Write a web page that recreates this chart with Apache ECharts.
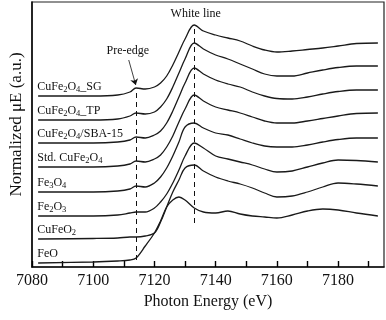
<!DOCTYPE html>
<html>
<head>
<meta charset="utf-8">
<script src="https://cdn.jsdelivr.net/npm/echarts@6/dist/echarts.min.js"></script>
<style>
html, body { margin: 0; padding: 0; background: #fff; }
#xanes { width: 386px; height: 320px; }
</style>
</head>
<body>
<div id="xanes"></div>
<script>
// photon energy grid (eV)
var energy = [7082, 7100, 7108, 7112, 7114, 7117, 7120, 7122, 7124, 7126, 7128, 7130, 7133, 7136, 7140, 7144, 7148, 7152, 7156, 7160, 7165, 7170, 7175, 7180, 7186, 7193];

// normalized absorption of each sample (before stacking)
var muSG     = [0, 0, 0.02, 0.08, 0.16, 0.14, 0.18, 0.26, 0.40, 0.62, 0.88, 1.14, 1.42, 1.30, 1.22, 1.16, 1.10, 1.00, 0.92, 0.88, 0.90, 0.93, 0.96, 1.00, 1.05, 1.06];
var muTP     = [0, 0, 0.02, 0.08, 0.14, 0.12, 0.16, 0.26, 0.42, 0.66, 0.94, 1.22, 1.54, 1.42, 1.30, 1.22, 1.12, 1.02, 0.92, 0.88, 0.88, 0.94, 1.00, 1.05, 1.08, 1.08];
var muSBA    = [0, 0, 0.02, 0.06, 0.12, 0.10, 0.16, 0.24, 0.40, 0.64, 0.92, 1.20, 1.50, 1.38, 1.26, 1.18, 1.12, 1.02, 0.94, 0.89, 0.88, 0.92, 0.98, 1.03, 1.06, 1.06];
var muStd    = [0, 0, 0.02, 0.06, 0.12, 0.10, 0.16, 0.24, 0.40, 0.62, 0.90, 1.16, 1.44, 1.32, 1.20, 1.14, 1.08, 1.00, 0.92, 0.88, 0.88, 0.92, 0.97, 1.02, 1.07, 1.08];
var muFe3O4  = [0, 0, 0.02, 0.06, 0.12, 0.10, 0.18, 0.30, 0.48, 0.72, 1.00, 1.30, 1.38, 1.28, 1.18, 1.14, 1.06, 0.98, 0.92, 0.90, 0.90, 0.94, 1.00, 1.05, 1.08, 1.08];
var muFe2O3  = [0, 0, 0.02, 0.06, 0.08, 0.08, 0.16, 0.28, 0.44, 0.66, 0.92, 1.20, 1.46, 1.36, 1.20, 1.14, 1.08, 1.02, 0.94, 0.88, 0.90, 0.98, 1.06, 1.12, 1.11, 1.08];
var muCuFeO2 = [0, 0.01, 0.02, 0.04, 0.04, 0.06, 0.12, 0.34, 0.64, 0.94, 1.18, 1.42, 1.48, 1.36, 1.24, 1.16, 1.10, 1.02, 0.92, 0.84, 0.86, 0.94, 1.04, 1.12, 1.10, 1.06];
var muFeO    = [0, 0.02, 0.04, 0.06, 0.10, 0.34, 0.60, 0.84, 1.12, 1.26, 1.32, 1.26, 1.10, 1.02, 1.00, 1.04, 0.98, 0.94, 0.92, 0.90, 0.96, 1.04, 1.08, 1.06, 1.00, 0.94];

// vertical shift of each curve
var offsets = [3.42, 2.94, 2.48, 2.00, 1.50, 1.02, 0.56, 0.08];

var sampleNames = ['CuFe2O4_SG', 'CuFe2O4_TP', 'CuFe2O4/SBA-15', 'Std. CuFe2O4', 'Fe3O4', 'Fe2O3', 'CuFeO2', 'FeO'];
var sampleLabels = ['CuFe{s|2}O{s|4}_SG', 'CuFe{s|2}O{s|4}_TP', 'CuFe{s|2}O{s|4}/SBA-15', 'Std. CuFe{s|2}O{s|4}',
  'Fe{s|3}O{s|4}', 'Fe{s|2}O{s|3}', 'CuFeO{s|2}', 'FeO'];
var allMu = [muSG, muTP, muSBA, muStd, muFe3O4, muFe2O3, muCuFeO2, muFeO];

var xTicks = [7080, 7100, 7120, 7140, 7160, 7180];
var preEdgeE = 7114.2;
var whiteLineE = 7133.1;

var serif = 'Liberation Serif';

var series = allMu.map(function (mu, i) {
  return {
    name: sampleNames[i],
    type: 'line',
    smooth: 0.35,
    showSymbol: false,
    lineStyle: { color: '#1a1a1a', width: 1.3 },
    data: energy.map(function (e, j) { return [e, offsets[i] + mu[j]]; }),
    markPoint: {
      symbolSize: 0,
      silent: true,
      label: {
        show: true,
        position: 'right',
        distance: 0,
        formatter: sampleLabels[i],
        color: '#111',
        fontFamily: serif,
        fontSize: 12,
        lineHeight: 16,
        rich: {
          s: { fontFamily: serif, fontSize: 8.5, lineHeight: 8, verticalAlign: 'bottom', color: '#111' }
        }
      },
      data: [{ coord: [7081.7, offsets[i] + 0.19] }]
    }
  };
});

// dashed guide lines, arrow and their captions
series.push({
  name: 'notes',
  type: 'line',
  data: [],
  markLine: {
    silent: true,
    symbol: 'none',
    label: { show: false },
    lineStyle: { color: '#111', width: 1, type: [5, 4] },
    data: [
      [{ coord: [preEdgeE, 0.14] }, { coord: [preEdgeE, 3.56] }],
      [{ coord: [whiteLineE, 0.88] }, { coord: [whiteLineE, 4.8] }],
      [{ coord: [7111.6, 4.14], symbol: 'none' },
       { coord: [7113.9, 3.64], symbol: 'arrow', symbolSize: 6, lineStyle: { type: 'solid', width: 0.8 } }]
    ]
  },
  markPoint: {
    symbolSize: 0,
    silent: true,
    label: { show: true, color: '#111', fontFamily: serif, fontSize: 12, position: 'inside' },
    data: [
      { coord: [whiteLineE + 0.4, 5.06], label: { formatter: 'White line' } },
      { coord: [7111.3, 4.32], label: { formatter: 'Pre-edge' } }
    ]
  }
});

var chart = echarts.init(document.getElementById('xanes'));
chart.setOption({
  animation: false,
  grid: { left: 27, right: 2, top: 2, bottom: 53, show: true, borderColor: '#222', borderWidth: 1.2 },
  xAxis: {
    type: 'value',
    min: 7080,
    max: 7195,
    interval: 10,
    name: 'Photon Energy (eV)',
    nameLocation: 'middle',
    nameGap: 27,
    nameTextStyle: { fontFamily: serif, fontSize: 16, color: '#111' },
    axisLine: { lineStyle: { color: '#111', width: 1.6 } },
    axisTick: { show: true, inside: true, length: 6, lineStyle: { color: '#000', width: 1.4 } },
    axisLabel: {
      fontFamily: serif, fontSize: 16, color: '#111', margin: 6,
      showMaxLabel: false,
      formatter: function (v) { return xTicks.indexOf(v) >= 0 ? String(v) : ''; }
    },
    splitLine: { show: false }
  },
  yAxis: {
    type: 'value',
    min: 0,
    max: 5.3,
    name: 'Normalized \u03bcE (a.u.)',
    nameLocation: 'middle',
    nameGap: 7,
    nameTextStyle: { fontFamily: serif, fontSize: 17, color: '#111', padding: [0, 0, 0, 20] },
    axisLine: { show: true, lineStyle: { color: '#111', width: 1.6 } },
    axisTick: { show: false },
    axisLabel: { show: false },
    splitLine: { show: false }
  },
  series: series
});
</script>
</body>
</html>
